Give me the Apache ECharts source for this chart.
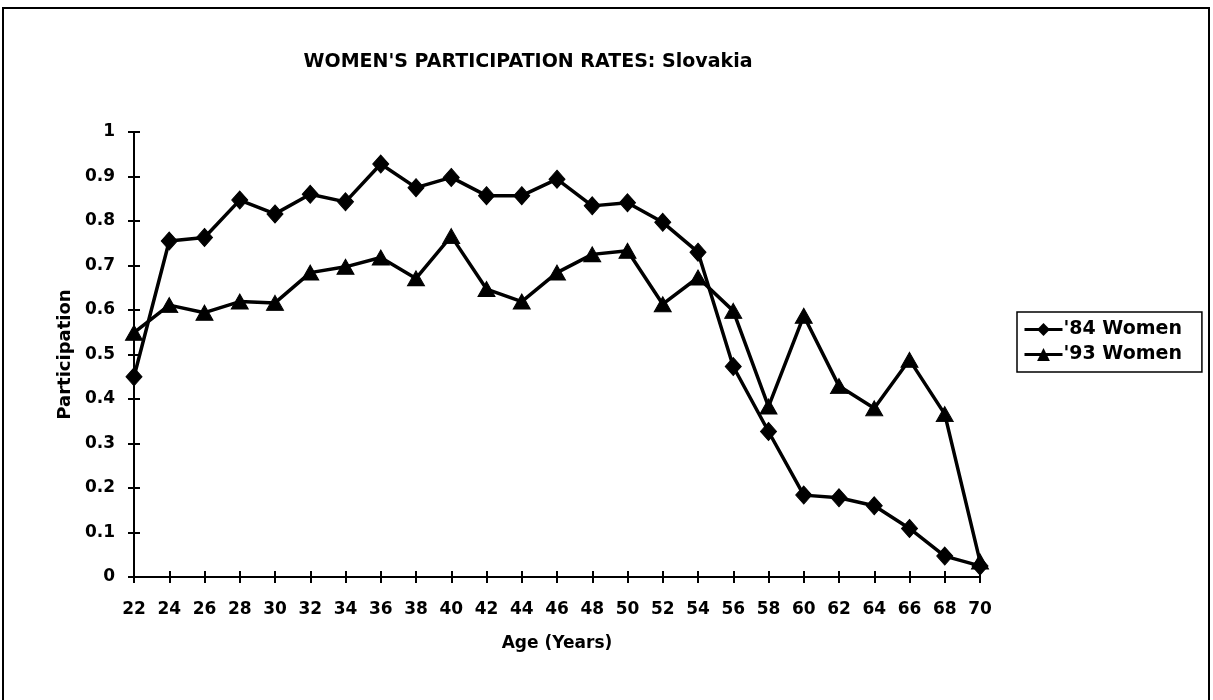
<!DOCTYPE html>
<html>
<head>
<meta charset="utf-8">
<script src="https://cdn.jsdelivr.net/npm/echarts@6/dist/echarts.min.js"></script>
<style>
html,body{margin:0;padding:0;background:#fff;}
#chart{width:1213px;height:700px;}
</style>
</head>
<body>
<div id="chart"></div>
<script>
const ages = ['22','24','26','28','30','32','34','36','38','40','42','44','46','48','50','52','54','56','58','60','62','64','66','68','70'];
const women84 = [0.45,0.755,0.763,0.847,0.816,0.86,0.843,0.928,0.875,0.898,0.857,0.857,0.894,0.834,0.841,0.797,0.73,0.473,0.327,0.184,0.178,0.16,0.109,0.047,0.025];
const women93 = [0.549,0.611,0.594,0.619,0.616,0.684,0.697,0.718,0.671,0.766,0.647,0.619,0.684,0.725,0.733,0.613,0.673,0.598,0.383,0.587,0.429,0.379,0.488,0.366,0.035];
const seriesNames = ["'84 Women", "'93 Women"];

const FONT = 'DejaVu Sans';
const chart = echarts.init(document.getElementById('chart'), null, {renderer:'canvas'});

const baseX = {
  type:'category', data:ages, boundaryGap:false,
  axisLine:{show:true, lineStyle:{color:'#000', width:2}},
  splitLine:{show:false}
};
const baseY = {
  type:'value', min:0, max:1, interval:0.1,
  axisLine:{show:true, lineStyle:{color:'#000', width:2}},
  splitLine:{show:false}
};

chart.setOption({
  backgroundColor:'#fff',
  animation:false,
  title:{
    text:"WOMEN'S PARTICIPATION RATES: Slovakia",
    left:523, top:48, textAlign:'center',
    textStyle:{fontFamily:FONT, fontWeight:'bold', fontSize:19, color:'#000'}
  },
  legend:{
    orient:'vertical', left:1017, top:312,
    data:seriesNames,
    itemWidth:38, itemHeight:16, itemGap:6,
    lineStyle:{width:3, color:'#000'},
    borderColor:'#000', borderWidth:1.5, padding:[8,20,8,6],
    textStyle:{fontFamily:FONT, fontWeight:'bold', fontSize:19, color:'#000', padding:[0,0,0,-4]}
  },
  grid:{left:134, right:233, top:132, bottom:123, containLabel:false},
  xAxis:[
    Object.assign({}, baseX, {
      name:'Age (Years)', nameLocation:'middle', nameGap:58,
      nameTextStyle:{fontFamily:FONT, fontWeight:'bold', fontSize:17, color:'#000'},
      axisTick:{show:true, inside:false, length:6, lineStyle:{color:'#000', width:2}},
      axisLabel:{fontFamily:FONT, fontWeight:'bold', fontSize:17, color:'#000', margin:24}
    }),
    Object.assign({}, baseX, {
      position:'bottom',
      axisTick:{show:true, inside:true, length:6, lineStyle:{color:'#000', width:2}},
      axisLabel:{show:false}
    })
  ],
  yAxis:[
    Object.assign({}, baseY, {
      name:'Participation', nameLocation:'middle', nameGap:57, nameRotate:90,
      nameTextStyle:{fontFamily:FONT, fontWeight:'bold', fontSize:18, color:'#000'},
      axisTick:{show:true, inside:false, length:6, lineStyle:{color:'#000', width:2}},
      axisLabel:{fontFamily:FONT, fontWeight:'bold', fontSize:17, color:'#000', margin:19}
    }),
    Object.assign({}, baseY, {
      position:'left',
      axisTick:{show:true, inside:true, length:6, lineStyle:{color:'#000', width:2}},
      axisLabel:{show:false}
    })
  ],
  series:[
    {
      name:seriesNames[0], type:'line', data:women84,
      xAxisIndex:0, yAxisIndex:0,
      symbol:'diamond', symbolSize:[16,18],
      lineStyle:{color:'#000', width:3.5},
      itemStyle:{color:'#000', borderColor:'#000'}
    },
    {
      name:seriesNames[1], type:'line', data:women93,
      xAxisIndex:0, yAxisIndex:0,
      symbol:'triangle', symbolSize:[17,15],
      lineStyle:{color:'#000', width:3.5},
      itemStyle:{color:'#000', borderColor:'#000'}
    }
  ],
  graphic:[
    {type:'rect', shape:{x:3, y:8, width:1206, height:720}, style:{fill:null, stroke:'#000', lineWidth:2}, silent:true}
  ]
});
</script>
</body>
</html>
